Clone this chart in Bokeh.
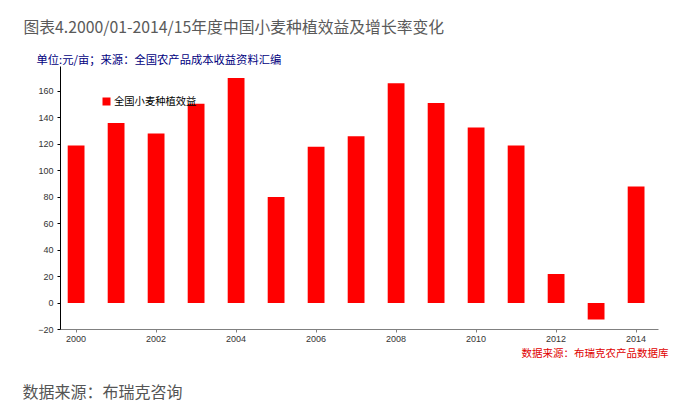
from bokeh.plotting import figure
from bokeh.models import Title, FixedTicker, Range1d, Legend, LegendItem, ColumnDataSource, NumeralTickFormatter
from bokeh.embed import file_html
from bokeh.resources import INLINE

years = [2000, 2001, 2002, 2003, 2004, 2005, 2006, 2007, 2008, 2009, 2010, 2011, 2012, 2013, 2014]
benefit = [119, 136, 128, 150.5, 170, 80, 118, 126, 166, 151, 132.5, 119, 22, -12.5, 88]
y_ticks = [-20, 0, 20, 40, 60, 80, 100, 120, 140, 160]
x_ticks = [2000, 2002, 2004, 2006, 2008, 2010, 2012, 2014]
title_text = "图表4.2000/01-2014/15年度中国小麦种植效益及增长率变化"
unit_text = "单位:元/亩；来源：全国农产品成本收益资料汇编"
series_name = "全国小麦种植效益"
db_text = "数据来源：布瑞克农产品数据库"
source_text = "数据来源：布瑞克咨询"

CJK = "Noto Sans CJK SC"

p = figure(width=688, height=405, output_backend="svg", toolbar_location=None,
           x_range=Range1d(1999.61, 2014.56), y_range=Range1d(-20, 178.6),
           min_border_left=60, min_border_right=30, min_border_top=66, min_border_bottom=76)
p.outline_line_color = None
p.xgrid.visible = False
p.ygrid.visible = False

src = ColumnDataSource(dict(x=years, top=benefit))
r = p.vbar(x="x", top="top", bottom=0, width=0.42, source=src, fill_color="#FF0000", line_color=None)

p.yaxis.ticker = FixedTicker(ticks=y_ticks)
p.xaxis.ticker = FixedTicker(ticks=x_ticks)
p.xaxis.formatter = NumeralTickFormatter(format="0")
for ax in (p.xaxis[0], p.yaxis[0]):
    ax.major_label_text_font = "Liberation Sans"
    ax.major_label_text_font_size = "9px"
    ax.major_label_text_color = "#333333"
    ax.major_tick_in = 0
    ax.major_tick_out = 3
    ax.minor_tick_line_color = None
p.xaxis.major_label_standoff = 3
p.yaxis.major_label_standoff = 4
p.yaxis.axis_line_color = "#000000"
p.yaxis.major_tick_line_color = "#000000"
p.xaxis.axis_line_color = "#808080"
p.xaxis.major_tick_line_color = "#808080"

legend = Legend(items=[LegendItem(label=series_name, renderers=[r])], location=(41, 221),
                background_fill_alpha=0, border_line_color=None, padding=0, margin=0,
                glyph_width=10, glyph_height=10, label_standoff=3, label_height=10,
                label_text_font=CJK, label_text_font_size="10.3px", label_text_color="#000000")
p.add_layout(legend, "center")

def ttl(text, size, color, side, align, offset, standoff, valign="bottom"):
    p.add_layout(Title(text=text, text_font=CJK, text_font_size=size, text_color=color,
                       text_font_style="normal", align=align, offset=offset, standoff=standoff,
                       vertical_align=valign), side)

ttl(unit_text, "11.3px", "#000080", "above", "left", -24, 0)
ttl(title_text, "15.8px", "#5a5a5a", "above", "left", -37, 21)
ttl(db_text, "10.5px", "#E00000", "below", "right", -10, 0, "top")
ttl(" ", "1px", "#FFFFFF", "below", "left", 0, 10)
ttl(source_text, "16px", "#555555", "below", "left", -38, 4)

open("out.html", "w").write(file_html(p, INLINE))
